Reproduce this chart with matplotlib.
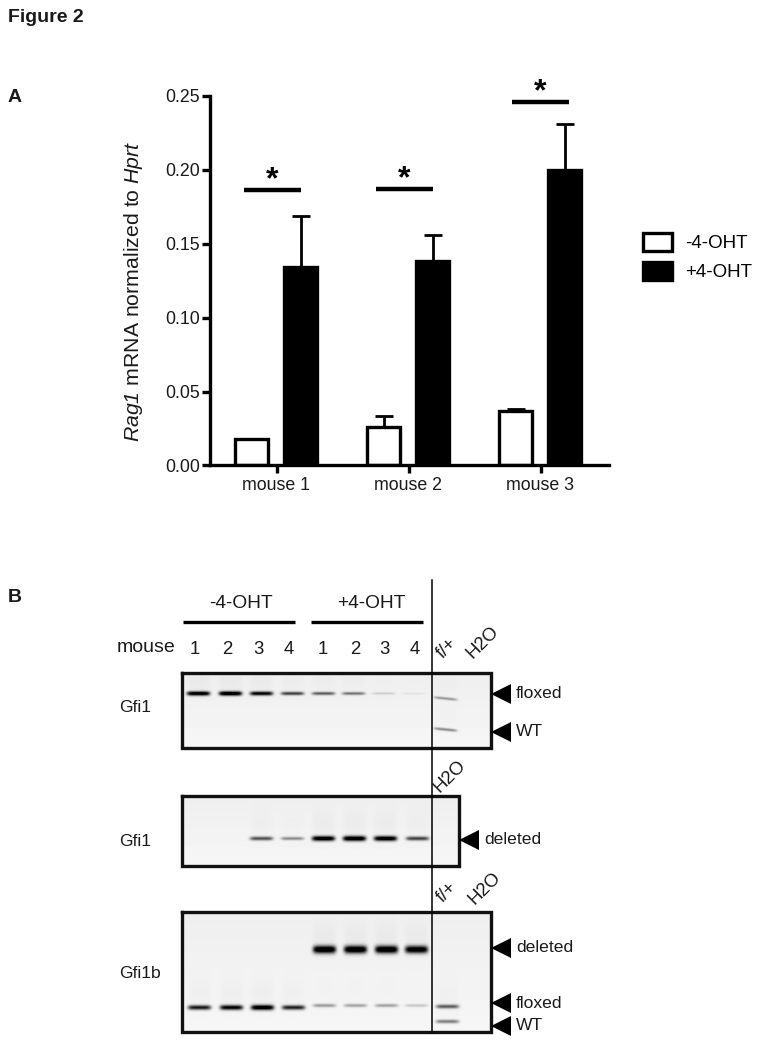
import numpy as np
import matplotlib
matplotlib.use('Agg')
import matplotlib.pyplot as plt

plt.rcParams['font.family'] = ['Liberation Sans', 'DejaVu Sans']
plt.rcParams['mathtext.fontset'] = 'custom'
plt.rcParams['mathtext.rm'] = 'Liberation Sans'
plt.rcParams['mathtext.it'] = 'Liberation Sans:italic'
plt.rcParams['mathtext.cal'] = 'Liberation Sans:italic'   # 数字也要斜体

# bar chart values
mice = ['mouse 1', 'mouse 2', 'mouse 3']
minus_oht = [0.018, 0.026, 0.037]
minus_err = [0.0, 0.0075, 0.0015]
plus_oht = [0.134, 0.1385, 0.2]
plus_err = [0.035, 0.0175, 0.031]
sig_height = [0.1865, 0.187, 0.246]
y_ticks = [0.00, 0.05, 0.10, 0.15, 0.20, 0.25]

# gel band strength per lane, 0 = nothing, 1 = saturated
gel1_top = [0.95, 1.0, 0.85, 0.6, 0.5, 0.42, 0.12, 0.05]
gel1_ctrl = [0.3, 0.35]
gel2_band = [0, 0, 0.55, 0.35, 0.95, 1.0, 0.95, 0.6]
gel3_del = [1.0, 1.0, 1.0, 0.95]
gel3_flox = [0.75, 0.85, 0.95, 0.72, 0.3, 0.27, 0.28, 0.15, 0.5]
gel3_wt = [0.4]

W, H = 763, 1044
fig = plt.figure(figsize=(W / 100, H / 100), dpi=100)


# 像素坐标转成 figure 坐标
def px_axes(left, top, right, bottom):
    return fig.add_axes([left / W, 1 - bottom / H, (right - left) / W, (bottom - top) / H])


# ---- panel B gel and labels, pixel coordinates ----
bg = fig.add_axes([0, 0, 1, 1])
bg.set_xlim(0, W)
bg.set_ylim(H, 0)
bg.axis('off')


def add_band(img, left, top, x, y, strength, thick, tilt):
    yy, xx = np.mgrid[0:img.shape[0], 0:img.shape[1]]
    across = np.exp(-((xx + left - x) / 11.5) ** 6)
    centre = y + tilt * (xx + left - x)
    core = np.exp(-((yy + top - centre) / (thick * (1.25 + 1.35 * strength))) ** 2)
    # faint smear above the band
    smear = np.exp(-((yy + top - y + 14) / 13.0) ** 2) * 0.025
    img -= across * (core * strength * 1.15 + smear * strength)


def draw_gel(left, top, right, bottom, bands):
    shade = np.linspace(0.935, 0.965, bottom - top)[:, None]
    img = np.tile(shade, (1, right - left))
    for lanes, ys, strengths, thick, tilt in bands:
        for x, y, s in zip(lanes, ys, strengths):
            if s > 0:
                add_band(img, left, top, x, y, s, thick, tilt)
    bg.imshow(np.clip(img, 0, 1), cmap='gray', vmin=0, vmax=1, aspect='auto',
              extent=(left, right, bottom, top), interpolation='bilinear', zorder=1)
    bg.plot([left, right, right, left, left], [top, top, bottom, bottom, top],
            color='#111111', lw=2.4, zorder=3, solid_joinstyle='miter')


lanes1 = [198, 230, 261, 292, 323, 353, 383, 413]
lanes2 = [198, 230, 261, 292, 323, 354, 385, 417]
lanes3 = [199, 231, 262, 293, 324, 355, 386, 416, 447]

draw_gel(182, 673, 491, 748, [
    (lanes1, [693] * 8, gel1_top, 0.85, 0),
    ([445, 445], [698, 729], gel1_ctrl, 0.85, 0.1),
])
draw_gel(182, 796, 459, 866, [(lanes2, [838] * 8, gel2_band, 1.0, 0)])
draw_gel(182, 912, 491, 1032, [
    (lanes3[4:8], [949] * 4, gel3_del, 1.5, 0),
    (lanes3, [1007] * 4 + [1005] * 4 + [1006], gel3_flox, 1.05, 0),
    ([447], [1021], gel3_wt, 1.05, 0),
])
bg.set_xlim(0, W)
bg.set_ylim(H, 0)

# divider through the gels
bg.plot([431.5, 431.5], [580, 1032], color='black', lw=1.1, zorder=4)

# treatment brackets
bg.plot([183, 295], [622, 622], color='black', lw=2.4, zorder=4, solid_capstyle='butt')
bg.plot([311, 423], [622, 622], color='black', lw=2.4, zorder=4, solid_capstyle='butt')

txt = dict(color='#1a1a1a', va='center', zorder=5)
fs = 12.8
bg.text(8, 18, 'Figure 2', fontsize=14, fontweight='bold', **txt)
bg.text(8, 97, 'A', fontsize=14, fontweight='bold', **txt)
bg.text(8, 598, 'B', fontsize=14, fontweight='bold', **txt)
bg.text(241, 604, '-4-OHT', fontsize=13.8, ha='center', **txt)
bg.text(371, 604, '+4-OHT', fontsize=13.8, ha='center', **txt)
bg.text(117, 648, 'mouse', fontsize=14, **txt)
for x, n in zip([195, 227, 258, 289, 323, 355, 384, 415], ['1', '2', '3', '4', '1', '2', '3', '4']):
    bg.text(x, 649, n, fontsize=13.4, ha='center', **txt)
bg.text(119, 707, 'Gfi1', fontsize=12.6, **txt)
bg.text(119, 841, 'Gfi1', fontsize=12.6, **txt)
bg.text(119, 973, 'Gfi1b', fontsize=12.6, **txt)
for x, y, s in [(447, 648, 'f/+'), (483, 642, 'H2O'), (450, 776, 'H2O'),
                (447, 892, 'f/+'), (485, 888, 'H2O')]:
    bg.text(x, y, s, fontsize=13.4, rotation=45, ha='center', rotation_mode='anchor', **txt)

# arrowheads and their labels
for x, y, s in [(492, 694, 'floxed'), (492, 732, 'WT'), (460, 840, 'deleted'),
                (492, 948, 'deleted'), (492, 1003, 'floxed'), (492, 1026, 'WT')]:
    bg.plot([x + 9], [y], marker='<', ms=14, color='black', mew=0, zorder=5)
    bg.text(x + 24, y, s, fontsize=12.6, **txt)

# ---- panel A bars ----
ax = px_axes(210, 96, 609, 465.5)
ax.patch.set_alpha(0)
pos = np.arange(len(mice))
off = 25 / 132
bw = 33 / 132

white = ax.bar(pos - off, minus_oht, bw, color='white', edgecolor='black', linewidth=2.4,
               label='-4-OHT', zorder=2)
black = ax.bar(pos + off - 0.006, plus_oht, bw, color='black', edgecolor='black', linewidth=2.4,
               label='+4-OHT', zorder=2)
ax.errorbar(pos - off, minus_oht, yerr=[np.zeros(3), minus_err], fmt='none', ecolor='black',
            elinewidth=2.0, capsize=6.2, capthick=2.0, zorder=1)
ax.errorbar(pos + off - 0.006, plus_oht, yerr=[np.zeros(3), plus_err], fmt='none', ecolor='black',
            elinewidth=2.0, capsize=6.2, capthick=2.0, zorder=1)

# significance bars, slightly left of the group centre
for p, h, shift in zip(pos, sig_height, [-0.03, -0.03, 0.0]):
    ax.plot([p + shift - 0.215, p + shift + 0.215], [h, h], color='black', lw=3.2,
            solid_capstyle='butt')
    ax.text(p + shift, h + 0.0065, '*', fontsize=23, fontweight='bold',
            ha='center', va='center', color='black', clip_on=False)

ax.set_xlim(-66.5 / 132, 332.5 / 132)
ax.set_ylim(0, 0.25)
ax.set_xticks(pos)
ax.set_xticklabels(mice, fontsize=fs, color='#1a1a1a')
ax.set_yticks(y_ticks)
ax.set_yticklabels(['%.2f' % v for v in y_ticks], fontsize=fs, color='#1a1a1a')
ax.tick_params(axis='both', length=5.5, width=2.4, pad=3)
ax.tick_params(axis='y', pad=1.5)
for s in ['top', 'right']:
    ax.spines[s].set_visible(False)
for s in ['left', 'bottom']:
    ax.spines[s].set_linewidth(2.4)
ax.set_ylabel(r'$\mathit{Rag}\mathcal{1}$ mRNA normalized to $\mathit{Hprt}$', fontsize=15.3,
              color='#1a1a1a')
ax.yaxis.set_label_coords(-0.163, 0.471)

fig.legend(handles=[white, black], loc='center left', bbox_to_anchor=(626 / W, 1 - 257 / H),
           frameon=False, fontsize=13.5, handlelength=1.55, handleheight=1.1,
           labelspacing=0.5, handletextpad=0.7)

fig.savefig('out.png', dpi=100)
